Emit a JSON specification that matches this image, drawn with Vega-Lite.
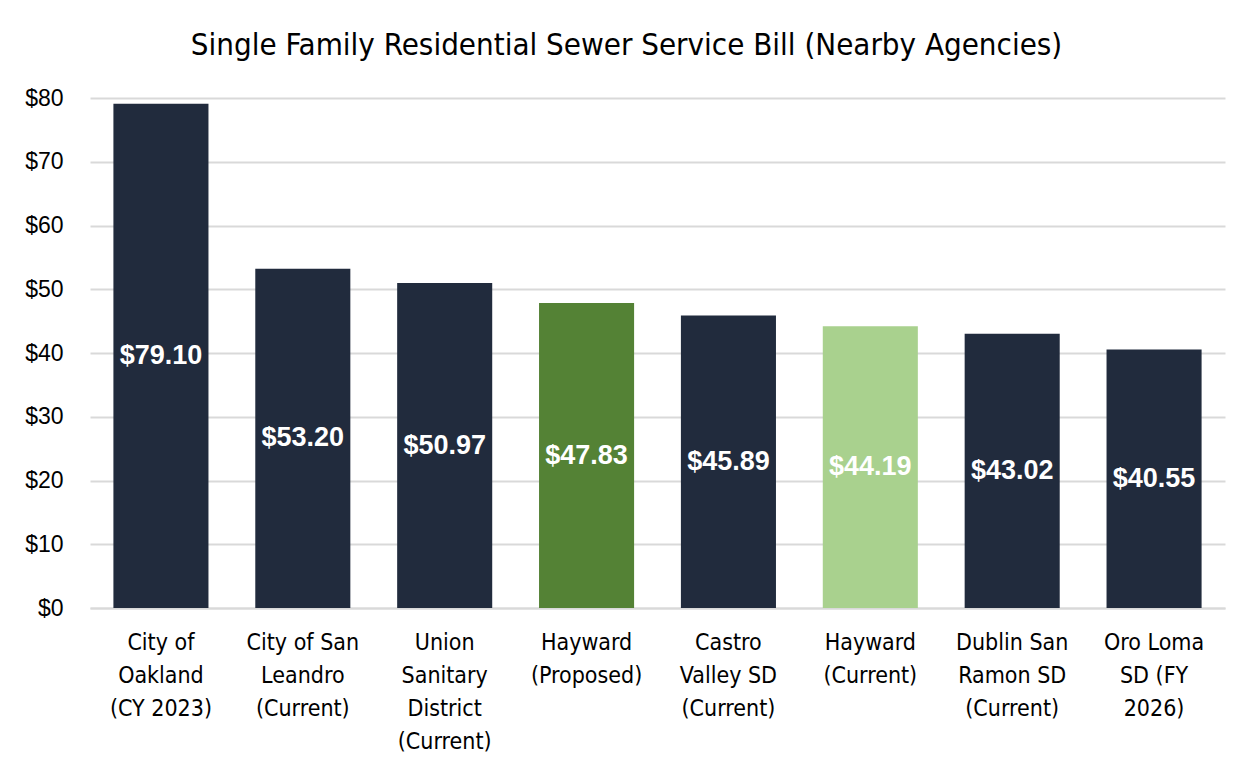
{
  "$schema": "https://vega.github.io/schema/vega-lite/v6.json",
  "width": 1135,
  "height": 510,
  "autosize": {"type": "none"},
  "padding": {"left": 90, "top": 98, "right": 17, "bottom": 164},
  "background": "white",
  "title": {
    "text": "Single Family Residential Sewer Service Bill (Nearby Agencies)",
    "font": "DejaVu Sans Condensed",
    "fontSize": 31,
    "fontWeight": "normal",
    "color": "#000000",
    "anchor": "middle",
    "dx": -31,
    "offset": 25
  },
  "data": {
    "values": [
      {"agency": "City of|Oakland|(CY 2023)", "bill": 79.10, "type": "Other"},
      {"agency": "City of San|Leandro|(Current)", "bill": 53.20, "type": "Other"},
      {"agency": "Union|Sanitary|District|(Current)", "bill": 50.97, "type": "Other"},
      {"agency": "Hayward|(Proposed)", "bill": 47.83, "type": "Hayward Proposed"},
      {"agency": "Castro|Valley SD|(Current)", "bill": 45.89, "type": "Other"},
      {"agency": "Hayward|(Current)", "bill": 44.19, "type": "Hayward Current"},
      {"agency": "Dublin San|Ramon SD|(Current)", "bill": 43.02, "type": "Other"},
      {"agency": "Oro Loma|SD (FY|2026)", "bill": 40.55, "type": "Other"}
    ]
  },
  "encoding": {
    "x": {
      "field": "agency",
      "type": "nominal",
      "sort": null,
      "scale": {"paddingInner": 0.33, "paddingOuter": 0.165},
      "axis": {
        "title": null,
        "labelAngle": 0,
        "labelExpr": "split(datum.label, '|')",
        "labelFont": "DejaVu Sans Condensed",
        "labelFontSize": 23,
        "labelColor": "#000000",
        "labelLineHeight": 33,
        "labelPadding": 23,
        "labelBaseline": "top",
        "ticks": false,
        "domainColor": "#D9D9D9",
        "domainWidth": 2,
        "grid": false
      }
    }
  },
  "layer": [
    {
      "mark": {"type": "bar"},
      "encoding": {
        "y": {
          "field": "bill",
          "type": "quantitative",
          "scale": {"domain": [0, 80], "nice": false},
          "axis": {
            "title": null,
            "values": [0, 10, 20, 30, 40, 50, 60, 70, 80],
            "labelExpr": "'$' + datum.value",
            "labelFont": "Liberation Sans",
            "labelFontSize": 23,
            "labelColor": "#000000",
            "labelPadding": 27,
            "ticks": false,
            "domain": false,
            "grid": true,
            "gridColor": "#D9D9D9",
            "gridWidth": 2
          }
        },
        "color": {
          "field": "type",
          "type": "nominal",
          "scale": {
            "domain": ["Other", "Hayward Proposed", "Hayward Current"],
            "range": ["#212B3D", "#548235", "#A9D18E"]
          },
          "legend": null
        }
      }
    },
    {
      "mark": {
        "type": "text",
        "color": "white",
        "font": "Liberation Sans",
        "fontSize": 27,
        "fontWeight": "bold",
        "baseline": "middle",
        "align": "center"
      },
      "encoding": {
        "y": {
          "field": "bill",
          "type": "quantitative",
          "scale": {"domain": [0, 160], "nice": false},
          "axis": null
        },
        "text": {"field": "bill", "type": "quantitative", "format": "$.2f"}
      }
    }
  ],
  "resolve": {"scale": {"y": "independent"}, "axis": {"y": "independent"}},
  "config": {"view": {"stroke": null}}
}
